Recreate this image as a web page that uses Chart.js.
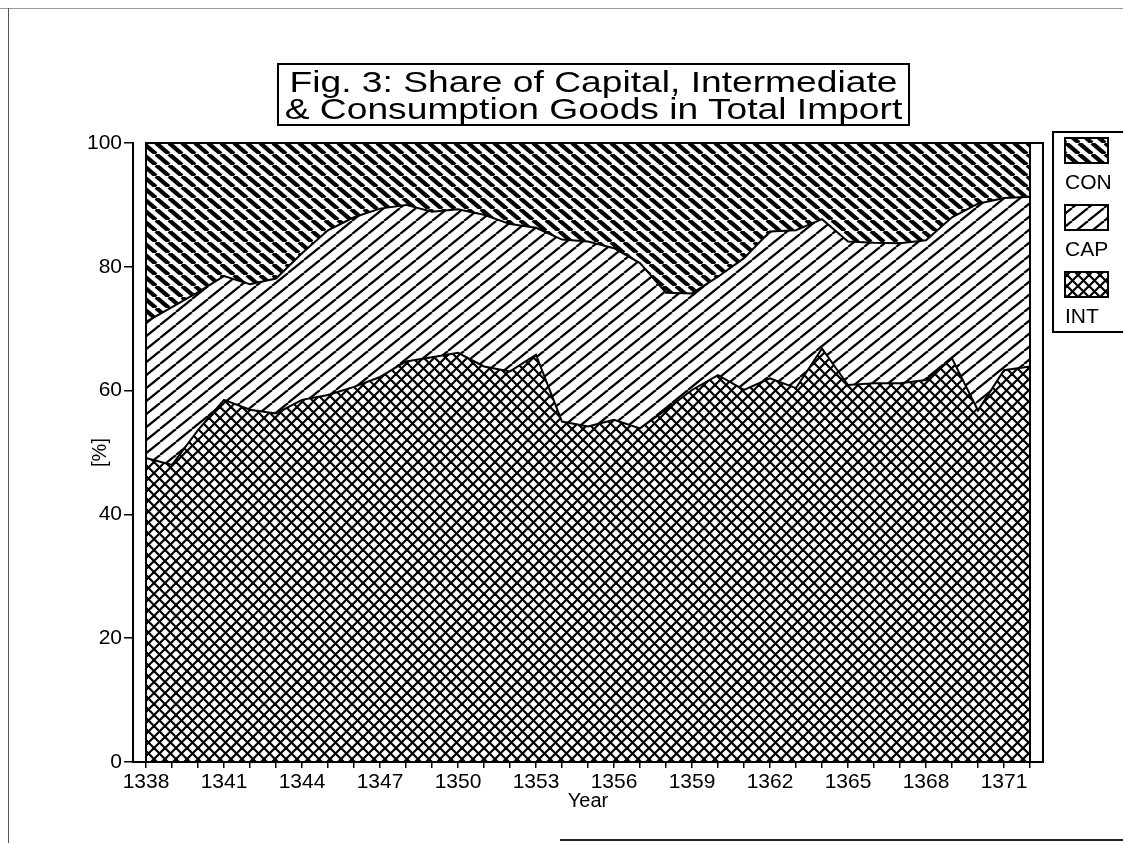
<!DOCTYPE html>
<html>
<head>
<meta charset="utf-8">
<script src="https://cdn.jsdelivr.net/npm/chart.js@4.4.1/dist/chart.umd.min.js"></script>
<style>
  body { margin: 0; background: #fff; }
  #wrap { position: relative; width: 1123px; height: 843px; overflow: hidden; }
  #title {
    position: absolute; left: 277px; top: 63px; width: 629px; height: 59px;
    border: 2px solid #000; background: #fff; text-align: center;
    font-family: 'Liberation Sans', Arial, sans-serif; font-size: 30px; line-height: 27px;
  }
  #title div { transform: scaleX(1.24); transform-origin: center; }
  .edge { position: absolute; background: #555; }
</style>
</head>
<body>
<div id="wrap">
  <canvas id="myChart" width="1123" height="843"></canvas>
  <div id="title"><div style="margin-top:3px">Fig. 3: Share of Capital, Intermediate</div><div>&amp; Consumption Goods in Total Import</div></div>
  <div class="edge" style="left:0;top:8px;width:1123px;height:1px;background:#999"></div>
  <div class="edge" style="left:8px;top:8px;width:1px;height:835px"></div>
  <div class="edge" style="left:560px;top:839px;width:563px;height:2px;background:#222"></div>
</div>
<script>
// values (per cent of total import)
const years = [1338, 1339, 1340, 1341, 1342, 1343, 1344, 1345, 1346, 1347, 1348, 1349,
  1350, 1351, 1352, 1353, 1354, 1355, 1356, 1357, 1358, 1359, 1360, 1361,
  1362, 1363, 1364, 1365, 1366, 1367, 1368, 1369, 1370, 1371, 1372];
const intShare = [49.1, 48.0, 53.6, 58.5, 56.9, 56.3, 58.5, 59.3, 60.6, 62.2, 64.7, 65.4,
  66.1, 63.9, 63.1, 65.8, 55.0, 54.2, 55.3, 53.9, 56.9, 60.1, 62.5, 60.1,
  62.0, 60.4, 66.8, 60.9, 61.2, 61.2, 61.7, 65.2, 56.8, 63.3, 63.9];
const capShare = [22.0, 25.5, 22.3, 20.0, 20.3, 21.8, 23.7, 26.6, 27.4, 27.2, 25.3, 23.5,
  23.2, 24.5, 23.8, 20.5, 29.4, 29.9, 27.7, 26.7, 18.9, 15.6, 15.9, 21.3,
  23.7, 25.5, 20.9, 23.2, 22.7, 22.6, 22.6, 22.8, 33.4, 27.8, 27.4];
const conShare = [28.9, 26.5, 24.1, 21.5, 22.8, 21.9, 17.8, 14.1, 12.0, 10.6, 10.0, 11.1,
  10.7, 11.6, 13.1, 13.7, 15.6, 15.9, 17.0, 19.4, 24.2, 24.3, 21.6, 18.6,
  14.3, 14.1, 12.3, 15.9, 16.1, 16.2, 15.7, 12.0, 9.8, 8.9, 8.7];
const yTicks = [0, 20, 40, 60, 80, 100];

Chart.defaults.font.family = "'Liberation Sans', Arial, sans-serif";
Chart.defaults.color = '#000';

// hatch patterns
function hatch(w, h, lw, dirs) {
  const c = document.createElement('canvas');
  c.width = w; c.height = h;
  const g = c.getContext('2d');
  g.fillStyle = '#fff';
  g.fillRect(0, 0, w, h);
  g.strokeStyle = '#000';
  g.lineWidth = lw;
  dirs.forEach(function (d) {
    for (let k = -1; k <= 1; k++) {
      g.beginPath();
      if (d === 'down') { g.moveTo(k * w, 0); g.lineTo(k * w + w, h); }
      else { g.moveTo(k * w, h); g.lineTo(k * w + w, 0); }
      g.stroke();
    }
  });
  return g.createPattern(c, 'repeat');
}
const conFill = hatch(13, 11, 4.3, ['down']);
const capFill = hatch(16, 13, 2.2, ['up']);
const intFill = hatch(11, 11, 2.2, ['down', 'up']);

const framePlugin = {
  id: 'frame',
  afterDraw(chart) {
    const g = chart.ctx, a = chart.chartArea, xs = chart.scales.x;
    const x0 = xs.getPixelForValue(years[0]);
    const x1 = xs.getPixelForValue(years[years.length - 1]);
    g.save();
    g.strokeStyle = '#000';
    g.lineWidth = 2;
    g.strokeRect(x0, a.top, a.right - x0, a.bottom - a.top);
    g.beginPath(); g.moveTo(x1, a.top); g.lineTo(x1, a.bottom); g.stroke();
    g.beginPath(); g.moveTo(a.left, a.top); g.lineTo(a.left, a.bottom); g.stroke();

    // legend box at the right
    const lx = a.right + 10, ly = a.top - 11;
    g.strokeRect(lx, ly, 120, 200);
    const order = [2, 1, 0];
    g.font = "21px 'Liberation Sans', Arial, sans-serif";
    g.textBaseline = 'middle';
    order.forEach(function (di, i) {
      const ds = chart.data.datasets[di];
      const sy = ly + 6 + i * 67;
      g.fillStyle = ds.backgroundColor;
      g.fillRect(lx + 12, sy, 43, 25);
      g.lineWidth = 2;
      g.strokeRect(lx + 12, sy, 43, 25);
      g.fillStyle = '#000';
      g.fillText(ds.label, lx + 12, sy + 45);
    });
    g.restore();
  }
};

const ctx = document.getElementById('myChart').getContext('2d');
const myChart = new Chart(ctx, {
  type: 'line',
  data: {
    labels: years,
    datasets: [
      { label: 'INT', data: intShare, backgroundColor: intFill, fill: 'origin' },
      { label: 'CAP', data: capShare, backgroundColor: capFill, fill: '-1' },
      { label: 'CON', data: conShare, backgroundColor: conFill, fill: '-1' }
    ]
  },
  options: {
    responsive: false,
    animation: false,
    layout: { padding: { left: 88, top: 143, right: 80, bottom: 21 } },
    elements: {
      point: { radius: 0 },
      line: { borderColor: '#000', borderWidth: 2, tension: 0 }
    },
    plugins: { legend: { display: false }, tooltip: { enabled: false } },
    scales: {
      x: {
        type: 'linear',
        min: 1337.5,
        max: 1372.5,
        afterFit(s) { s.height = 60; },
        afterBuildTicks(s) { s.ticks = years.map(function (v) { return { value: v }; }); },
        grid: { drawOnChartArea: false, color: '#000', tickLength: 6, lineWidth: 1.5 },
        border: { color: '#000', width: 2 },
        ticks: {
          autoSkip: false, maxRotation: 0, padding: 2, font: { size: 21 },
          callback: function (v) { return v % 3 === 0 ? String(v) : ''; }
        },
        title: { display: true, text: 'Year', font: { size: 20 }, padding: { top: 0, bottom: 9 } }
      },
      y: {
        stacked: true,
        min: 0,
        max: 100,
        afterFit(s) { s.width = 45; },
        afterBuildTicks(s) { s.ticks = yTicks.map(function (v) { return { value: v }; }); },
        grid: { drawOnChartArea: false, color: '#000', tickLength: 9, lineWidth: 1.5 },
        border: { color: '#000', width: 2 },
        ticks: { padding: 2, font: { size: 21 } },
        title: { display: true, text: '[%]', font: { size: 20 }, padding: 0 }
      }
    }
  },
  plugins: [framePlugin]
});
</script>
</body>
</html>
